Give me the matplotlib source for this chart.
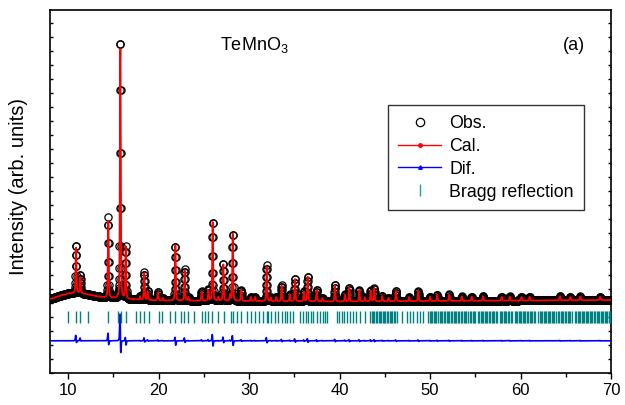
import numpy as np
import matplotlib
matplotlib.use("Agg")
from matplotlib import pyplot as plt
from matplotlib.lines import Line2D
from matplotlib.ticker import MultipleLocator, NullFormatter

plt.rcParams["font.family"] = ["Liberation Sans", "DejaVu Sans"]
plt.rcParams["mathtext.fontset"] = "custom"
plt.rcParams["mathtext.rm"] = "Liberation Sans"
plt.rcParams["mathtext.it"] = "Liberation Sans:italic"

peak_pos = [10.87, 11.35, 14.44, 15.77, 16.36, 17.94, 18.42, 18.80, 19.93, 20.45,
            21.85, 22.88, 23.30, 24.76, 25.50, 25.97, 26.60, 27.15, 27.90, 28.19,
            29.14, 30.20, 30.65, 31.94, 32.40, 33.00, 33.60, 34.50, 35.07, 36.06,
            36.47, 37.47, 38.10, 39.49, 40.60, 41.07, 42.18, 42.80, 43.44, 43.84,
            44.72, 45.40, 46.23, 47.67, 48.70, 49.99, 50.80, 52.12, 53.50, 54.60,
            55.85, 57.90, 58.80, 60.10, 61.00, 64.35, 65.50, 66.60, 68.80]
obs_height = [3450, 1300, 5750, 18700, 3700, 250, 2000, 660, 590, 200,
              3910, 2250, 250, 700, 800, 5700, 300, 2700, 450, 4850,
              800, 300, 300, 2570, 250, 300, 1140, 500, 1620, 700,
              1790, 830, 250, 1190, 500, 1020, 830, 300, 790, 980,
              380, 250, 740, 300, 740, 320, 460, 460, 320, 300,
              320, 280, 300, 250, 280, 300, 250, 280, 250]
calc_height = [3250, 1150, 5550, 17900, 3750, 240, 1900, 620, 560, 190,
               3960, 2180, 240, 660, 760, 5640, 290, 2600, 430, 4820,
               770, 290, 290, 2500, 240, 290, 1110, 480, 1590, 680,
               1760, 810, 240, 1160, 480, 1000, 810, 290, 770, 960,
               370, 240, 720, 290, 720, 310, 450, 450, 310, 290,
               310, 270, 290, 240, 270, 290, 240, 270, 240]

# background anchors (2theta, intensity)
bg_pos = [8, 9, 10, 11, 12, 13, 14, 16, 20, 30, 40, 50, 60, 70]
bg_val = [1286, 1500, 1679, 1714, 1643, 1500, 1393, 1286, 1179, 1143, 1107, 1143, 1179, 1214]

# Bragg reflection positions
bragg_pos = [9.96, 10.84, 11.31, 12.23, 14.44, 15.55, 15.85, 16.40, 17.50, 17.94,
             18.42, 18.97, 20.04, 20.34, 21.26, 21.81, 22.48, 22.84, 23.28, 23.94,
             24.76, 25.13, 25.49, 25.87, 26.60, 27.19, 27.97, 28.25, 28.63, 29.10,
             29.73, 30.21, 30.65, 31.09, 31.57, 31.94, 32.12, 32.38, 32.86, 33.23,
             33.60, 33.97, 34.22, 34.52, 34.82, 35.62, 35.99, 36.29, 36.54, 36.84,
             37.10, 37.47, 37.83, 38.13, 38.39, 38.64, 39.68, 39.97, 40.23, 40.52,
             40.78, 41.15, 41.51, 41.81, 42.25, 42.80, 43.36, 43.58, 43.72, 43.86,
             44.02, 44.15, 44.31, 44.47, 44.60, 44.78, 44.93, 45.06, 45.22, 45.37,
             45.55, 45.68, 45.84, 46.00, 46.14, 46.31, 46.86, 47.41, 47.78, 48.14,
             48.52, 48.88, 49.25, 49.80, 49.95, 50.12, 50.26, 50.43, 50.58, 50.71,
             50.90, 51.05, 51.19, 51.36, 51.50, 51.67, 51.83, 51.97, 52.14, 52.30,
             52.44, 52.60, 52.77, 52.92, 53.07, 53.24, 53.38, 53.55, 53.70, 53.86,
             54.00, 54.25, 54.40, 54.56, 54.70, 54.86, 55.00, 55.30, 55.45, 55.60,
             55.74, 55.90, 56.05, 56.20, 56.34, 56.50, 56.65, 56.80, 56.96, 57.10,
             57.25, 57.40, 57.70, 57.85, 58.00, 58.14, 58.30, 58.45, 58.60, 58.74,
             58.90, 59.05, 59.35, 59.50, 59.64, 59.80, 59.95, 60.10, 60.24, 60.40,
             60.55, 60.70, 60.85, 61.00, 61.15, 61.30, 61.45, 61.60, 61.95, 62.10,
             62.25, 62.40, 62.55, 62.70, 62.85, 63.00, 63.15, 63.30, 63.45, 63.60,
             63.75, 63.88, 64.15, 64.30, 64.45, 64.60, 64.75, 64.90, 65.05, 65.20,
             65.35, 65.50, 65.65, 66.00, 66.15, 66.30, 66.45, 66.60, 66.75, 66.90,
             67.05, 67.20, 67.35, 67.50, 67.65, 67.80, 67.95, 68.10, 68.25, 68.40,
             68.55, 68.70, 68.85, 69.00, 69.15, 69.30, 69.45, 69.60, 69.75, 69.90]

step = 0.02
fwhm = 0.11
calc_shift = 0.006
dif_offset = -1700
bragg_level = 0


def profile(x, pos, heights, shift=0.0):
    # pseudo-Voigt peaks on top of the background
    y = np.interp(x, bg_pos, bg_val).astype(float)
    hw = fwhm / 2
    for p, h in zip(pos, heights):
        d = x - (p + shift)
        g = np.exp(-np.log(2) * (d / hw) ** 2)
        lo = 1 / (1 + (d / hw) ** 2)
        y += h * (0.6 * g + 0.4 * lo)
    return y


two_theta = np.arange(8.0, 70.0 + step / 2, step)
obs = profile(two_theta, peak_pos, obs_height)
calc = profile(two_theta, peak_pos, calc_height, calc_shift)
dif = obs - calc + dif_offset

fig = plt.figure(figsize=(6.25, 4.05), dpi=100)
ax = fig.add_axes([0.08, 0.079, 0.8976, 0.896])

ax.plot(two_theta, obs, linestyle="none", marker="o", markersize=5.2,
        markerfacecolor="none", markeredgecolor="black", markeredgewidth=0.9, zorder=2)
ax.plot(two_theta, calc, color="#ff0000", linewidth=1.3, zorder=3)
ax.plot(two_theta, dif, color="#0000ff", linewidth=1.2, zorder=3)
ax.plot(bragg_pos, [bragg_level] * len(bragg_pos), linestyle="none", marker="|",
        markersize=8, markeredgewidth=1.0, color="#008080", zorder=3)

ax.set_xlim(8, 70)
ax.set_ylim(-4000, 21930)
ax.xaxis.set_major_locator(MultipleLocator(10))
ax.xaxis.set_minor_locator(MultipleLocator(5))
ax.yaxis.set_major_locator(MultipleLocator(1000))
ax.yaxis.set_major_formatter(NullFormatter())
ax.tick_params(axis="x", which="major", direction="out", length=4, width=1, labelsize=12)
ax.tick_params(axis="x", which="minor", direction="out", length=3, width=1)
ax.tick_params(axis="y", which="major", direction="in", length=2.5, width=1,
               left=True, right=True)
for s in ax.spines.values():
    s.set_linewidth(1.2)

ax.set_ylabel("Intensity (arb. units)", fontsize=14.5)
ax.yaxis.set_label_coords(-0.04, 0.515)

ax.text(0.303, 0.9036, "TeMnO$_3$", transform=ax.transAxes, fontsize=13, va="center")
ax.text(0.915, 0.9036, "(a)", transform=ax.transAxes, fontsize=13, va="center")

handles = [
    Line2D([], [], linestyle="none", marker="o", markersize=6, markerfacecolor="none",
           markeredgecolor="black", markeredgewidth=0.9),
    Line2D([], [], color="#ff0000", linewidth=1, marker="o", markersize=2.5),
    Line2D([], [], color="#0000ff", linewidth=1, marker="^", markersize=2.5),
    Line2D([], [], linestyle="none", marker="|", markersize=8, markeredgewidth=1,
           color="#20a0a0"),
]
labels = ["Obs.", "Cal.", "Dif.", "Bragg reflection"]
leg = ax.legend(handles, labels, loc="upper left", bbox_to_anchor=(0.6025, 0.738),
                borderaxespad=0, fontsize=12.8, frameon=True, fancybox=False,
                edgecolor="black", handlelength=2.45, labelspacing=0.33,
                handletextpad=0.45, borderpad=0.55)
leg.get_frame().set_linewidth(1.0)

fig.savefig("out.png", dpi=100)
